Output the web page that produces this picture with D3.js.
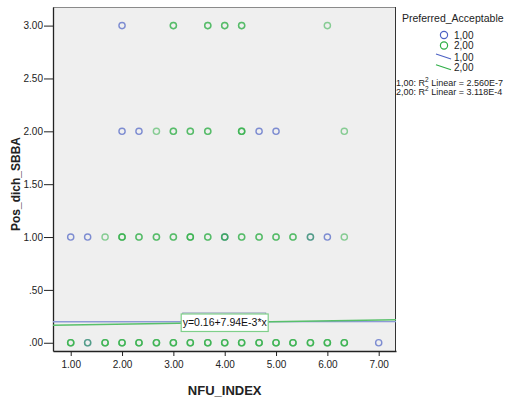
<!DOCTYPE html>
<html>
<head>
<meta charset="utf-8">
<script src="https://cdn.jsdelivr.net/npm/d3@7"></script>
<style>
  html, body { margin: 0; padding: 0; background: #fff; }
  svg { display: block; font-family: Arial, "Liberation Sans", sans-serif; }
</style>
</head>
<body>
<svg id="chart" width="505" height="401"></svg>
<script>
// Cases per group: [NFU_INDEX, Pos_dich_SBBA, number of overlapping cases]
const group1Points = [
  [1.33, 0, 1], [7.00, 0, 1],
  [1.00, 1, 1], [1.33, 1, 1], [4.00, 1, 1], [5.67, 1, 1], [6.00, 1, 1],
  [2.00, 2, 1], [2.33, 2, 1], [4.67, 2, 1], [5.00, 2, 1],
  [2.00, 3, 1]
];
const group2Points = [
  [1.00, 0, 3], [1.33, 0, 1], [1.67, 0, 3], [2.00, 0, 3], [2.33, 0, 3], [2.67, 0, 3],
  [3.00, 0, 3], [3.33, 0, 3], [3.67, 0, 3], [4.00, 0, 3], [4.33, 0, 3], [4.67, 0, 3],
  [5.00, 0, 3], [5.33, 0, 3], [5.67, 0, 3], [6.00, 0, 3], [6.33, 0, 3],
  [1.67, 1, 1], [2.00, 1, 3], [2.33, 1, 2], [2.67, 1, 2], [3.00, 1, 2], [3.33, 1, 3],
  [3.67, 1, 2], [4.00, 1, 2], [4.33, 1, 2], [4.67, 1, 2], [5.00, 1, 2], [5.33, 1, 2],
  [5.67, 1, 1], [6.33, 1, 1],
  [2.67, 2, 1], [3.00, 2, 2], [3.33, 2, 2], [3.67, 2, 2], [4.33, 2, 3], [6.33, 2, 1],
  [3.00, 3, 2], [3.67, 3, 2], [4.00, 3, 2], [4.33, 3, 2], [6.00, 3, 1]
];

// Linear fit per group: [intercept, slope]
const fitGroup1 = [0.199, 0.0001];
const fitGroup2 = [0.16, 7.94e-3];
const fitLabel = "y=0.16+7.94E-3*x";

const groupNames = ["1,00", "2,00"];
const r2Labels = ["1,00: R\u00b2 Linear = 2.560E-7", "2,00: R\u00b2 Linear = 3.118E-4"];
const xTicks = [1, 2, 3, 4, 5, 6, 7];
const yTicks = [0, 0.5, 1, 1.5, 2, 2.5, 3];

const blue = "#4d62c4";
const green = "#2fae47";
const blueLine = "#8d9ad6";
const greenLine = "#58c06a";

const svg = d3.select("#chart");
const plot = { left: 53, right: 396, top: 7, bottom: 351 };

const x = d3.scaleLinear().domain([0.655, 7.337]).range([plot.left, plot.right]);
const y = d3.scaleLinear().domain([-0.078, 3.176]).range([plot.bottom, plot.top]);

// Plot background and frame
svg.append("rect")
  .attr("x", plot.left).attr("y", plot.top)
  .attr("width", plot.right - plot.left).attr("height", plot.bottom - plot.top)
  .attr("fill", "#efefef");
svg.append("line")
  .attr("x1", plot.left).attr("x2", plot.right)
  .attr("y1", plot.top + 0.5).attr("y2", plot.top + 0.5)
  .attr("stroke", "#8a8a8a");
svg.append("line")
  .attr("x1", plot.right - 0.5).attr("x2", plot.right - 0.5)
  .attr("y1", plot.top).attr("y2", plot.bottom)
  .attr("stroke", "#333");

// Axes
const fmt = v => d3.format(".2f")(v).replace(/^0\./, ".");
const xAxis = svg.append("g")
  .attr("transform", `translate(0,${plot.bottom})`)
  .call(d3.axisBottom(x).tickValues(xTicks).tickFormat(fmt).tickSize(5).tickSizeOuter(0));
const yAxis = svg.append("g")
  .attr("transform", `translate(${plot.left},0)`)
  .call(d3.axisLeft(y).tickValues(yTicks).tickFormat(fmt).tickSize(9).tickSizeOuter(0));
[xAxis, yAxis].forEach(g => {
  g.select(".domain").attr("stroke", "#222").attr("stroke-width", 1.3);
  g.selectAll(".tick line").attr("stroke", "#222");
  g.selectAll(".tick text").attr("fill", "#222")
    .style("font-family", "Arial, 'Liberation Sans', sans-serif").style("font-size", "10px");
});
xAxis.selectAll(".tick text").attr("dy", "0.95em").attr("y", 7);
yAxis.selectAll(".tick text").attr("x", -10);

// Axis titles
svg.append("text")
  .attr("x", x(4)).attr("y", 395)
  .attr("text-anchor", "middle")
  .attr("font-weight", "bold").attr("font-size", 13).attr("fill", "#222")
  .text("NFU_INDEX");
svg.append("text")
  .attr("transform", "translate(20,184) rotate(-90)")
  .attr("text-anchor", "middle")
  .attr("font-weight", "bold").attr("font-size", 12).attr("fill", "#222")
  .text("Pos_dich_SBBA");

// Scatter points: overlapping cases are drawn stacked so they read darker
function drawPoints(points, color, opacity) {
  const expanded = points.flatMap(p => d3.range(p[2]).map(() => p));
  svg.append("g").selectAll("circle")
    .data(expanded).join("circle")
    .attr("cx", d => x(d[0])).attr("cy", d => y(d[1]))
    .attr("r", 3.1)
    .attr("fill", "none")
    .attr("stroke", color)
    .attr("stroke-opacity", opacity)
    .attr("stroke-width", 1.4);
}
drawPoints(group1Points, blue, 0.7);
drawPoints(group2Points, green, 0.55);

// Fit lines
const [xmin, xmax] = x.domain();
function drawFit(fit, color) {
  svg.append("line")
    .attr("x1", x(xmin)).attr("y1", y(fit[0] + fit[1] * xmin))
    .attr("x2", x(xmax)).attr("y2", y(fit[0] + fit[1] * xmax))
    .attr("stroke", color).attr("stroke-width", 1.4);
}
drawFit(fitGroup1, blueLine);
drawFit(fitGroup2, greenLine);

// Fit equation label box
const lx = x(4), ly = y(fitGroup2[0] + fitGroup2[1] * 4);
svg.append("rect")
  .attr("x", lx - 42).attr("y", ly - 9.5)
  .attr("width", 83).attr("height", 17)
  .attr("fill", "#fff").attr("stroke", "#8f9ab8").attr("stroke-width", 1);
svg.append("rect")
  .attr("x", lx - 43.5).attr("y", ly - 8.5)
  .attr("width", 87).attr("height", 17.5)
  .attr("fill", "#fff").attr("stroke", "#7fcf8a").attr("stroke-width", 1.2);
svg.append("text")
  .attr("x", lx).attr("y", ly + 4)
  .attr("text-anchor", "middle").attr("font-size", 10.5).attr("fill", "#111")
  .text(fitLabel);

// Legend
const lg = svg.append("g").attr("font-size", 10).attr("fill", "#222");
lg.append("text").attr("x", 402).attr("y", 22).attr("font-size", 10.5).text("Preferred_Acceptable");
[blue, green].forEach((c, i) => {
  lg.append("circle").attr("cx", 444).attr("cy", 35 + i * 10.5)
    .attr("r", 3.6).attr("fill", "none").attr("stroke", c).attr("stroke-width", 1.2);
  lg.append("text").attr("x", 454).attr("y", 38.5 + i * 10.5).text(groupNames[i]);
});
[blueLine, greenLine].forEach((c, i) => {
  const cy = 57 + i * 10.7;
  lg.append("line").attr("x1", 436).attr("y1", cy - 3).attr("x2", 451).attr("y2", cy + 2)
    .attr("stroke", i === 0 ? blue : green).attr("stroke-width", 1.1);
  lg.append("text").attr("x", 454).attr("y", cy + 3.5).text(groupNames[i]);
});

const r2 = svg.append("g").attr("font-size", 9).attr("fill", "#222");
r2Labels.forEach((t, i) => {
  const txt = r2.append("text").attr("x", 396).attr("y", 86 + i * 9);
  const parts = t.split("\u00b2");
  txt.append("tspan").text(parts[0]);
  txt.append("tspan").attr("dy", -4).attr("font-size", 6.5).text("2");
  txt.append("tspan").attr("dy", 4).text(parts[1]);
});
</script>
</body>
</html>
